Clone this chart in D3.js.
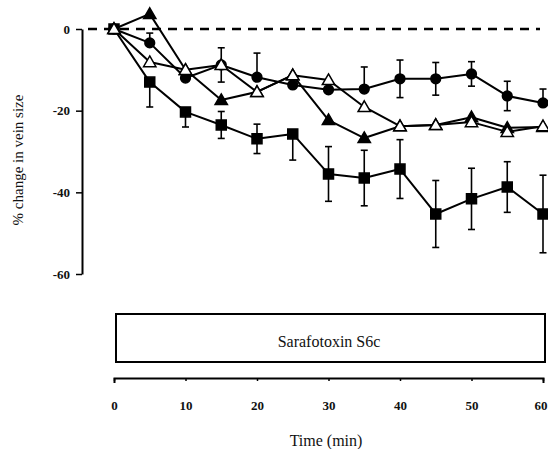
<!DOCTYPE html>
<html>
<head>
<meta charset="utf-8">
<script src="https://cdn.jsdelivr.net/npm/d3@7"></script>
<style>
  html, body { margin: 0; padding: 0; background: #fff; }
  svg { display: block; font-family: "Liberation Serif", "DejaVu Serif", serif; }
</style>
</head>
<body>
<div id="chart"></div>
<script>
const times = [0, 5, 10, 15, 20, 25, 30, 35, 40, 45, 50, 55, 60];

// filled squares
const sqVals = [0, -13.0, -20.3, -23.5, -26.9, -25.7, -35.5, -36.5, -34.3, -45.3, -41.6, -38.7, -45.3];
const sqErr  = [0, 6.1, 3.7, 3.3, 3.6, 6.4, 6.7, 6.8, 7.2, 8.2, 7.5, 6.2, 9.5];
const sqSide = ['', 'd', 'd', 'b', 'b', 'd', 'b', 'b', 'b', 'b', 'b', 'b', 'b'];

// filled circles
const ciVals = [0, -3.4, -12.0, -8.8, -11.8, -13.7, -14.9, -14.7, -12.2, -12.2, -11.0, -16.4, -18.1];
const ciErr  = [0, 2.4, 0, 0, 5.9, 0, 0, 5.4, 4.6, 4.0, 3.0, 3.6, 3.4];
const ciSide = ['', 'u', '', '', 'u', '', '', 'u', 'b', 'b', 'b', 'b', 'u'];

// filled triangles
const ftVals = [0, 3.7, -10.0, -17.4, -15.4, -11.3, -22.3, -26.7, -23.8, -23.5, -21.6, -24.2, -24.0];
const ftErr  = [0, 0, 0, 0, 0, 0, 0, 0, 0, 0, 0, 0, 0];

// open triangles
const otVals = [0, -8.1, -10.0, -8.8, -15.4, -11.3, -12.5, -19.1, -23.8, -23.5, -22.8, -25.2, -23.8];
const otErr  = [0, 0, 0, 4.2, 0, 0, 0, 0, 0, 0, 0, 0, 0];

const yTicks = [0, -20, -40, -60];
const xTicks = [0, 10, 20, 30, 40, 50, 60];
const barLabel = 'Sarafotoxin S6c';

const W = 548, H = 449;
const svg = d3.select('#chart').append('svg').attr('width', W).attr('height', H);
svg.append('rect').attr('width', W).attr('height', H).attr('fill', '#fff');

const x = d3.scaleLinear().domain([0, 60]).range([114, 543]);
const y = d3.scaleLinear().domain([-60, 0]).range([274, 29]);

// y axis
const yAx = svg.append('g').attr('transform', 'translate(82,0)')
  .call(d3.axisLeft(y).tickValues(yTicks).tickSize(6).tickSizeOuter(0).tickPadding(6)
    .tickFormat(d => String(d)));
yAx.select('.domain').attr('stroke', '#000').attr('stroke-width', 2);
yAx.selectAll('.tick line').attr('stroke', '#000').attr('stroke-width', 1.5);
yAx.selectAll('.tick text').attr('font-family', '"Liberation Serif", serif')
  .attr('font-size', 13).attr('font-weight', 700).attr('fill', '#111');

svg.append('text').attr('transform', 'translate(23,160) rotate(-90)')
  .attr('text-anchor', 'middle').attr('font-size', 15).attr('fill', '#111')
  .text('% change in vein size');

// baseline at 0
svg.append('line').attr('x1', 88).attr('x2', 540).attr('y1', y(0)).attr('y2', y(0))
  .attr('stroke', '#000').attr('stroke-width', 2.5).attr('stroke-dasharray', '9,7');

const series = [
  { vals: ciVals, err: ciErr, side: ciSide, shape: 'circle', fill: '#000' },
  { vals: ftVals, err: ftErr, side: null, shape: 'tri', fill: '#000' },
  { vals: sqVals, err: sqErr, side: sqSide, shape: 'square', fill: '#000' },
  { vals: otVals, err: otErr, side: null, shape: 'tri', fill: '#fff' }
].map(s => ({ ...s, pts: times.map((t, i) => ({ t, v: s.vals[i], e: s.err[i], side: s.side ? s.side[i] : 'b' })) }));

const line = d3.line().x(d => x(d.t)).y(d => y(d.v));

// error bars
series.forEach(s => {
  s.pts.filter(d => d.e > 0).forEach(d => {
    const up = d.side === 'b' || d.side === 'u';
    const dn = d.side === 'b' || d.side === 'd';
    const y0 = up ? y(d.v + d.e) : y(d.v);
    const y1 = dn ? y(d.v - d.e) : y(d.v);
    svg.append('line').attr('x1', x(d.t)).attr('x2', x(d.t)).attr('y1', y0).attr('y2', y1)
      .attr('stroke', '#000').attr('stroke-width', 1.6);
    if (up) svg.append('line').attr('x1', x(d.t) - 3.5).attr('x2', x(d.t) + 3.5)
      .attr('y1', y0).attr('y2', y0).attr('stroke', '#000').attr('stroke-width', 1.6);
    if (dn) svg.append('line').attr('x1', x(d.t) - 3.5).attr('x2', x(d.t) + 3.5)
      .attr('y1', y1).attr('y2', y1).attr('stroke', '#000').attr('stroke-width', 1.6);
  });
});

// lines
series.forEach(s => {
  svg.append('path').datum(s.pts).attr('fill', 'none').attr('stroke', '#000')
    .attr('stroke-width', 2).attr('stroke-linejoin', 'round').attr('d', line);
});

// markers
const sym = { circle: d3.symbolCircle, square: d3.symbolSquare, tri: d3.symbolTriangle };
const size = { circle: 75, square: 100, tri: 66 };
series.forEach(s => {
  svg.selectAll(null).data(s.pts).enter().append('path')
    .attr('transform', d => `translate(${x(d.t)},${y(d.v) + (s.shape === 'tri' ? 1 : 0)})`)
    .attr('d', d3.symbol().type(sym[s.shape]).size(size[s.shape]))
    .attr('fill', s.fill).attr('stroke', '#000').attr('stroke-width', 1.5);
});

// treatment bar
svg.append('rect').attr('x', 116).attr('y', 314).attr('width', 429).attr('height', 48)
  .attr('fill', '#fff').attr('stroke', '#000').attr('stroke-width', 2);
svg.append('text').attr('x', 329).attr('y', 347).attr('text-anchor', 'middle')
  .attr('font-size', 16).attr('fill', '#111').text(barLabel);

// x axis
const xAx = svg.append('g').attr('transform', 'translate(0,378)')
  .call(d3.axisBottom(x).tickValues(xTicks).tickSize(3).tickSizeOuter(5).tickPadding(20));
xAx.select('.domain').attr('stroke', '#000').attr('stroke-width', 2);
xAx.selectAll('.tick line').attr('stroke', '#000').attr('stroke-width', 1.5);
xAx.selectAll('.tick text').attr('font-family', '"Liberation Serif", serif')
  .attr('font-size', 13).attr('font-weight', 700).attr('fill', '#111');
// keep the last label inside the frame
xAx.selectAll('.tick text').filter(d => d === 60).attr('text-anchor', 'end').attr('dx', 4);

svg.append('text').attr('x', 326).attr('y', 446).attr('text-anchor', 'middle')
  .attr('font-size', 16).attr('fill', '#111').text('Time (min)');
</script>
</body>
</html>
